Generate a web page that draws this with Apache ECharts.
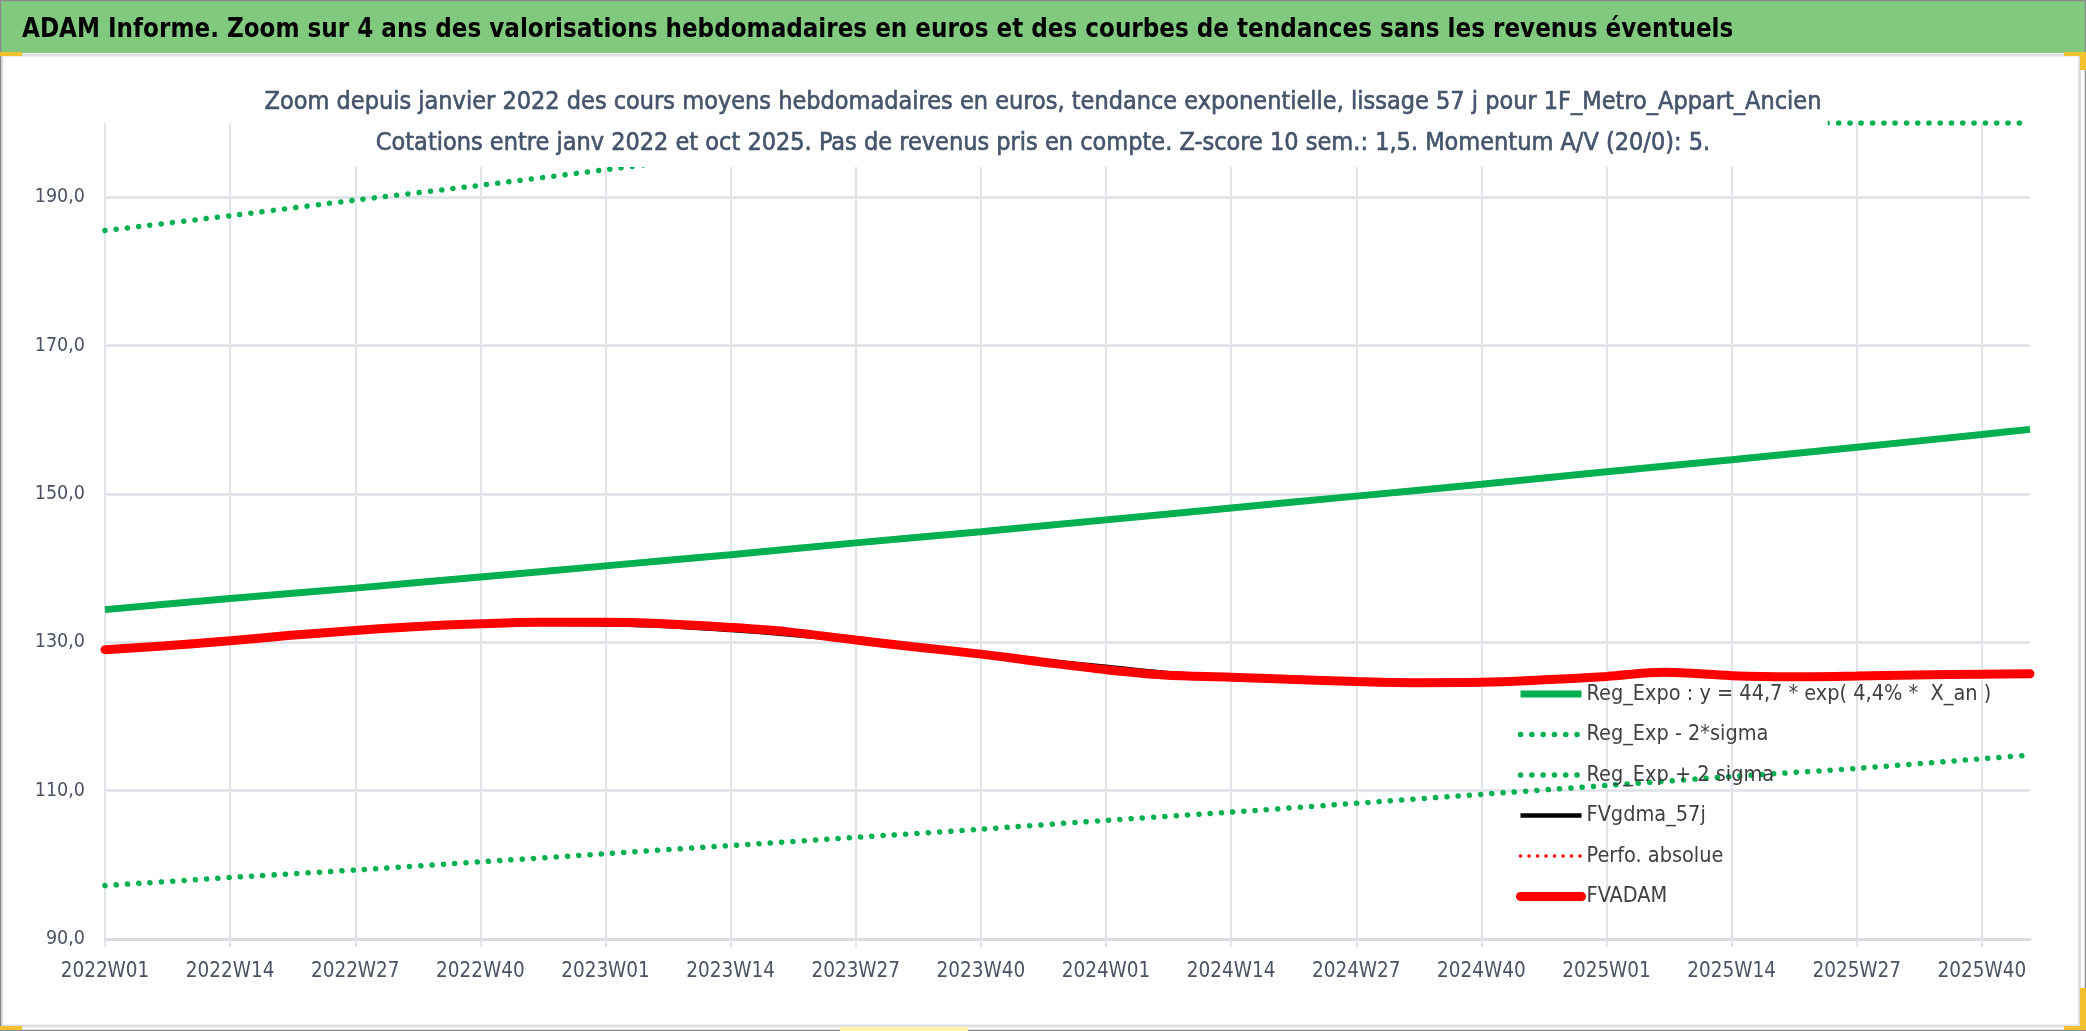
<!DOCTYPE html>
<html>
<head>
<meta charset="utf-8">
<title>ADAM Informe</title>
<script src="https://cdn.jsdelivr.net/npm/echarts@6/dist/echarts.min.js"></script>
<style>
  html, body { margin: 0; padding: 0; background: #fff; }
  #chart { width: 2086px; height: 1031px; }
</style>
</head>
<body>
<div id="chart"></div>
<script>
// axe des semaines : 2022W01 -> 2025W45
var yearWeeks = [[2022, 52], [2023, 52], [2024, 52], [2025, 45]];
var weeks = [];
yearWeeks.forEach(function (yw) {
    for (var w = 1; w <= yw[1]; w++) {
        weeks.push(yw[0] + 'W' + (w < 10 ? '0' + w : w));
    }
});

// tendances (index de semaine)
var trendIdx = [0, 13, 26, 39, 52, 65, 78, 91, 104, 117, 130, 143, 156, 169, 182, 195, 200];
var regExpo = [134.4, 135.9, 137.3, 138.8, 140.3, 141.8, 143.4, 144.9, 146.5, 148.1, 149.7, 151.3, 153.0, 154.6, 156.3, 158.0, 158.7];
var regLow = [97.2, 98.3, 99.3, 100.4, 101.5, 102.6, 103.7, 104.8, 106.0, 107.1, 108.3, 109.5, 110.7, 111.9, 113.0, 114.3, 114.8];
// bande haute, plafonnée au bord du graphique
var highIdx = [0, 13, 26, 39, 52, 65, 78, 89, 200];
var regHigh = [185.5, 187.5, 189.6, 191.6, 193.7, 195.8, 197.9, 200, 200];

// cours lissés
var adamIdx = [0, 6, 13, 19, 26, 32, 39, 45, 52, 58, 65, 71, 78, 84, 91, 97, 104, 110, 117, 123, 130, 136, 143, 149, 156, 162, 169, 175, 182, 188, 195, 200];
var fvAdam = [129.0, 129.5, 130.2, 130.9, 131.6, 132.1, 132.5, 132.7, 132.7, 132.5, 132.0, 131.4, 130.3, 129.4, 128.4, 127.4, 126.3, 125.6, 125.3, 125.0, 124.7, 124.55, 124.6, 124.9, 125.4, 125.95, 125.5, 125.35, 125.45, 125.6, 125.7, 125.75];
var fvGdma = [129.0, 129.5, 130.2, 130.9, 131.6, 132.1, 132.45, 132.5, 132.4, 132.2, 131.65, 131.05, 130.2, 129.4, 128.4, 127.6, 126.7, 125.9, 125.4, 125.0, 124.7, 124.55, 124.6, 124.9, 125.4, 125.9, 125.5, 125.35, 125.45, 125.6, 125.7, 125.75];
var perfoAbs = fvAdam;

var names = ['Reg_Expo : y = 44,7 * exp( 4,4% *  X_an )', 'Reg_Exp - 2*sigma', 'Reg_Exp + 2 sigma', 'FVgdma_57j', 'Perfo. absolue', 'FVADAM'];

var FONT = "'DejaVu Sans Condensed', 'Liberation Sans Narrow', 'Open Sans', sans-serif";

function pairs(idx, vals) {
    return idx.map(function (x, i) { return [x, vals[i]]; });
}

var chart = echarts.init(document.getElementById('chart'));
chart.setOption({
    animation: false,
    backgroundColor: '#fff',
    graphic: {
        elements: [
            { type: 'rect', z: 0, shape: { x: 0, y: 0, width: 2086, height: 53 }, style: { fill: '#80C97F' } },
            { type: 'rect', z: 0, shape: { x: 1.5, y: 55, width: 2078, height: 971 }, style: { fill: 'none', stroke: '#DCDFE4', lineWidth: 3 } },
            { type: 'rect', z: 0, shape: { x: 0.5, y: 0.5, width: 2085, height: 1030 }, style: { fill: 'none', stroke: '#8A8A8A', lineWidth: 1.5 } },
            { type: 'rect', z: 100, shape: { x: 0, y: 52, width: 22, height: 4 }, style: { fill: '#F2C12E' } },
            { type: 'rect', z: 100, shape: { x: 0, y: 1026, width: 22, height: 4 }, style: { fill: '#F2C12E' } },
            { type: 'rect', z: 100, shape: { x: 840, y: 1027, width: 128, height: 4 }, style: { fill: '#FFF3A6' } },
            { type: 'rect', z: 100, shape: { x: 2064, y: 52, width: 22, height: 4 }, style: { fill: '#F2C12E' } },
            { type: 'rect', z: 100, shape: { x: 2080, y: 52, width: 6, height: 18 }, style: { fill: '#F2C12E' } },
            { type: 'rect', z: 100, shape: { x: 2080, y: 988, width: 6, height: 42 }, style: { fill: '#F2C12E' } },
            { type: 'rect', z: 100, shape: { x: 2064, y: 1026, width: 22, height: 4 }, style: { fill: '#F2C12E' } }
        ]
    },
    title: [{
        text: 'ADAM Informe. Zoom sur 4 ans des valorisations hebdomadaires en euros et des courbes de tendances sans les revenus éventuels',
        left: 22, top: 15, padding: 0,
        textStyle: { fontFamily: FONT, fontSize: 25.7, fontWeight: 'bold', color: '#000', lineHeight: 30 }
    }, {
        text: 'Zoom depuis janvier 2022 des cours moyens hebdomadaires en euros, tendance exponentielle, lissage 57 j pour 1F_Metro_Appart_Ancien',
        left: 'center', top: 76, padding: [13, 6, 12, 6], backgroundColor: '#fff',
        textStyle: { fontFamily: FONT, fontSize: 25, fontWeight: 'normal', color: '#44546A', lineHeight: 26, textBorderColor: '#44546A', textBorderWidth: 0.6 }
    }, {
        text: 'Cotations entre janv 2022 et oct 2025. Pas de revenus pris en compte. Z-score 10 sem.: 1,5. Momentum A/V (20/0): 5.',
        left: 'center', top: 121, padding: [9, 40, 11, 40], backgroundColor: '#fff',
        textStyle: { fontFamily: FONT, fontSize: 25, fontWeight: 'normal', color: '#44546A', lineHeight: 26, textBorderColor: '#44546A', textBorderWidth: 0.6 }
    }],
    legend: {
        orient: 'vertical',
        left: 1511, top: 678,
        itemWidth: 61, itemHeight: 24, itemGap: 18.5,
        selectedMode: false,
        lineStyle: { width: 'inherit' },
        itemStyle: { opacity: 0 },
        textStyle: { fontFamily: FONT, fontSize: 21.5, color: '#404040' },
        data: names
    },
    grid: { left: 105, right: 56, top: 123, bottom: 92, containLabel: false },
    xAxis: {
        type: 'category',
        data: weeks,
        boundaryGap: false,
        axisLine: { lineStyle: { color: '#D9DCE1', width: 3 } },
        axisTick: { show: true, interval: 12, length: 8, lineStyle: { color: '#E1E4E9', width: 2 } },
        axisLabel: { interval: 12, margin: 22, fontFamily: FONT, fontSize: 20.5, color: '#4B5263' },
        splitLine: { show: true, interval: 12, lineStyle: { color: '#E1E4E9', width: 2 } }
    },
    yAxis: {
        type: 'value',
        min: 90, max: 200, interval: 20,
        axisLine: { show: false },
        axisTick: { show: false },
        axisLabel: {
            margin: 20, fontFamily: FONT, fontSize: 19.5, color: '#4B5263', showMaxLabel: false,
            formatter: function (v) { return v.toFixed(1).replace('.', ','); }
        },
        splitLine: { show: true, showMaxLine: false, lineStyle: { color: '#DDE1E6', width: 2.5 } }
    },
    series: [{
        name: names[0], type: 'line', symbol: 'none', smooth: 0.2,
        data: pairs(trendIdx, regExpo),
        lineStyle: { color: '#00B050', width: 7 }
    }, {
        name: names[1], type: 'line', symbol: 'none', smooth: 0.2,
        data: pairs(trendIdx, regLow),
        lineStyle: { color: '#00B050', width: 5.5, type: [0.1, 11.2], cap: 'round' }
    }, {
        name: names[2], type: 'line', symbol: 'none', smooth: 0.2,
        data: pairs(highIdx, regHigh),
        lineStyle: { color: '#00B050', width: 5.5, type: [0.1, 11.2], cap: 'round' }
    }, {
        name: names[3], type: 'line', symbol: 'none', smooth: 0.35,
        data: pairs(adamIdx, fvGdma),
        lineStyle: { color: '#000000', width: 4.5 }
    }, {
        name: names[4], type: 'line', symbol: 'none', smooth: 0.35,
        data: pairs(adamIdx, perfoAbs),
        lineStyle: { color: '#FF0000', width: 3.5, type: [0.1, 8.4], cap: 'round' }
    }, {
        name: names[5], type: 'line', symbol: 'none', smooth: 0.35,
        data: pairs(adamIdx, fvAdam),
        lineStyle: { color: '#FF0000', width: 9, cap: 'round' }
    }]
});
</script>
</body>
</html>
